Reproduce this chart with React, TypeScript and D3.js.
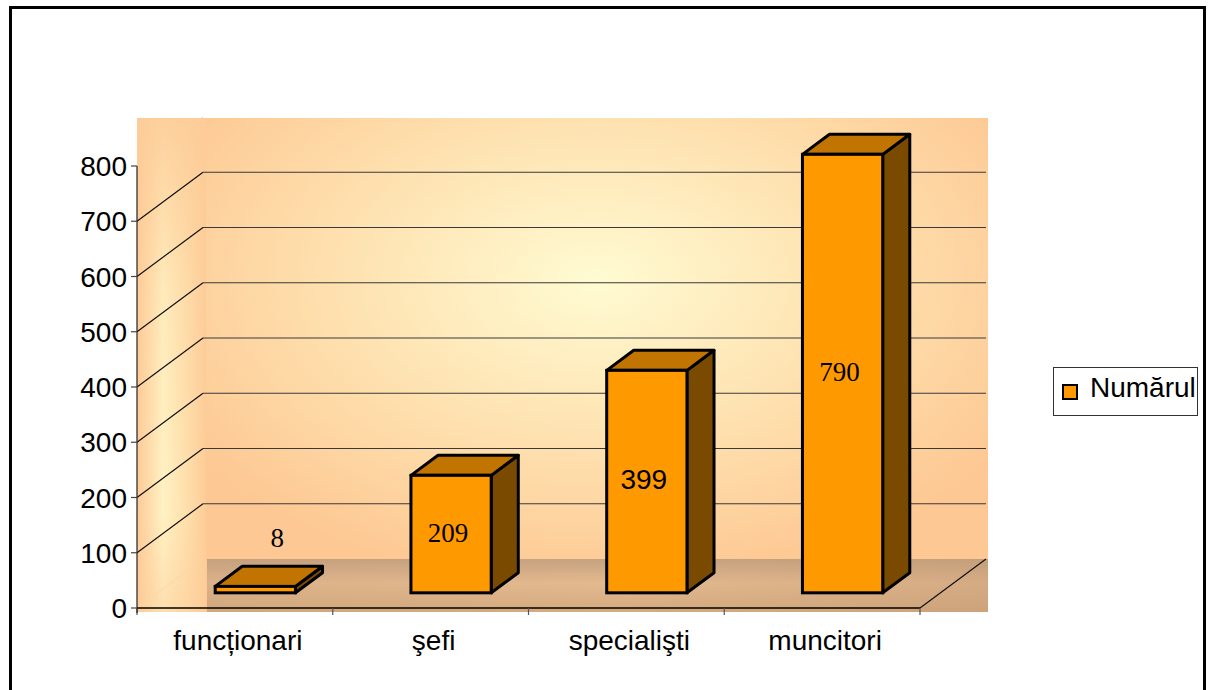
import React from "react"
import * as d3 from "d3"

const categories = ["funcționari", "şefi", "specialişti", "muncitori"]
const values = [8, 209, 399, 790]
const valueLabels = ["8", "209", "399", "790"]
const serifLabel = [true, true, false, true]
const yTicks = [0, 100, 200, 300, 400, 500, 600, 700, 800]
const seriesName = "Numărul"

const W = 1214
const H = 690
const SANS = "'Liberation Sans', Arial, sans-serif"
const SERIF = "'Liberation Serif', 'Times New Roman', serif"

// 3D depth of the plot box (front -> back wall)
const DX = 66
const DY = -49
// bar sits between these depth fractions
const DF = 0.31
const DB = 0.72

const App = () => {
  const x = d3.scaleBand().domain(categories).range([137, 920]).padding(0)
  const y = d3.scaleLinear().domain([0, 800]).range([608, 166])

  const bw = x.bandwidth()
  const barW = bw * 0.41
  const backX = 137 + DX
  const wallTop = y(800) + DY + 1
  const floorBack = y(0) + DY
  const plotRight = 920 + DX

  const bx = (DB - DF) * DX
  const by = (DB - DF) * DY

  return (
    <svg width={W} height={H} style={{ position: "absolute", left: 0, top: 0 }}>
      <defs>
        <radialGradient id="backWall" cx="0.5" cy="0.33" r="0.62">
          <stop offset="0" stopColor="#fffbd2" />
          <stop offset="0.55" stopColor="#fee0ae" />
          <stop offset="1" stopColor="#fdc893" />
        </radialGradient>
        <linearGradient id="sideWall" x1="0" x2="1" y1="0" y2="0">
          <stop offset="0" stopColor="#fdca96" />
          <stop offset="0.38" stopColor="#fff2c4" />
          <stop offset="0.7" stopColor="#fee0ad" />
          <stop offset="1" stopColor="#fdcc98" />
        </linearGradient>
        <linearGradient id="sideFade" x1="0" x2="0" y1="0" y2="1">
          <stop offset="0" stopColor="#fdcc98" stopOpacity="0.9" />
          <stop offset="0.35" stopColor="#fdcc98" stopOpacity="0.2" />
          <stop offset="0.8" stopColor="#fdcc98" stopOpacity="0" />
          <stop offset="1" stopColor="#fdcc98" stopOpacity="0.5" />
        </linearGradient>
        <linearGradient id="floor" x1="0" x2="0" y1="0" y2="1">
          <stop offset="0" stopColor="#c6a281" />
          <stop offset="0.45" stopColor="#e3b98f" />
          <stop offset="1" stopColor="#d5aa80" />
        </linearGradient>
        <linearGradient id="floorH" x1="0" x2="1" y1="0" y2="0">
          <stop offset="0" stopColor="#c8a07a" stopOpacity="0.3" />
          <stop offset="0.5" stopColor="#c8a07a" stopOpacity="0" />
          <stop offset="1" stopColor="#c39a74" stopOpacity="0.45" />
        </linearGradient>
      </defs>

      {/* outer frame */}
      <rect x={10.5} y={7.5} width={1194} height={700} fill="#fff" stroke="#000" strokeWidth={3} />

      {/* walls */}
      <rect x={backX} y={wallTop} width={plotRight + 2 - backX} height={612 - wallTop} fill="url(#backWall)" />
      <rect x={137} y={wallTop} width={backX + 3 - 137} height={612 - wallTop} fill="url(#sideWall)" />
      <rect x={137} y={wallTop} width={backX + 3 - 137} height={612 - wallTop} fill="url(#sideFade)" />

      {/* floor */}
      <rect x={backX + 4} y={floorBack} width={plotRight + 2 - backX - 4} height={612 - floorBack} fill="url(#floor)" />
      <rect x={backX + 4} y={floorBack} width={plotRight + 2 - backX - 4} height={612 - floorBack} fill="url(#floorH)" />

      {/* back wall gridlines and side wall diagonals */}
      {yTicks.filter((t) => t > 0 && t < 800).map((t) => (
        <g key={"g" + t}>
          <line x1={backX} x2={plotRight} y1={y(t) + DY} y2={y(t) + DY} stroke="#3a3a3a" strokeWidth={1.2} />
          <line x1={137} x2={backX} y1={y(t)} y2={y(t) + DY} stroke="#111" strokeWidth={1.2} />
        </g>
      ))}
      <line x1={137} x2={backX} y1={y(800)} y2={y(800) + DY} stroke="#fbd2a4" strokeWidth={1} />
      <line x1={137} x2={backX} y1={y(0)} y2={y(0) + DY} stroke="#fbd6ab" strokeWidth={1} />

      {/* floor front and right edge */}
      <line x1={137} x2={920} y1={y(0)} y2={y(0)} stroke="#000" strokeWidth={1.5} />
      <line x1={920} x2={920 + DX} y1={y(0)} y2={y(0) + DY} stroke="#111" strokeWidth={1.2} />
      {categories.map((c) => (
        <line key={"ct" + c} x1={x(c)} x2={x(c)} y1={y(0)} y2={y(0) + 7} stroke="#555" strokeWidth={1.2} />
      ))}
      <line x1={920} x2={920} y1={y(0)} y2={y(0) + 7} stroke="#555" strokeWidth={1.2} />

      {/* y axis */}
      <line x1={137} x2={137} y1={y(800)} y2={y(0) + 5} stroke="#222" strokeWidth={1.2} />
      {yTicks.map((t) => (
        <g key={"t" + t}>
          <line x1={131} x2={137} y1={y(t)} y2={y(t)} stroke="#444" strokeWidth={1.2} />
          <text x={127} y={y(t)} dy="0.36em" textAnchor="end" fontFamily={SANS} fontSize={28} fill="#000">
            {t}
          </text>
        </g>
      ))}

      {/* bars */}
      {categories.map((c, i) => {
        const L = (x(c) as number) + (bw - barW) / 2 + DF * DX
        const R = L + barW
        const B = y(0) + DF * DY
        const T = y(values[i]) + DF * DY - 2
        const small = B - T < 20
        const lx = small ? (L + R) / 2 + 22 : (L + R) / 2 - 3
        const ly = small ? T - 49 : (T + B) / 2 - 2
        return (
          <g key={"b" + c}>
            <polygon
              points={`${R},${T} ${R + bx},${T + by} ${R + bx},${B + by} ${R},${B}`}
              fill="#7a4a00"
              stroke="#000"
              strokeWidth={3}
              strokeLinejoin="round"
            />
            <polygon
              points={`${L},${T} ${L + bx},${T + by} ${R + bx},${T + by} ${R},${T}`}
              fill="#c27400"
              stroke="#000"
              strokeWidth={3}
              strokeLinejoin="round"
            />
            <rect x={L} y={T} width={barW} height={B - T} fill="#ff9900" stroke="#000" strokeWidth={3} />
            <text
              x={lx}
              y={ly}
              dy="0.35em"
              textAnchor="middle"
              fontFamily={serifLabel[i] ? SERIF : SANS}
              fontSize={serifLabel[i] ? 27 : 28}
              fill="#000"
            >
              {valueLabels[i]}
            </text>
          </g>
        )
      })}

      {/* category labels */}
      {categories.map((c) => (
        <text key={"cl" + c} x={(x(c) as number) + bw / 2 + 3} y={650} textAnchor="middle" fontFamily={SANS} fontSize={28} fill="#000">
          {c}
        </text>
      ))}

      {/* legend */}
      <rect x={1053.5} y={367.5} width={144} height={48} fill="#fff" stroke="#333" strokeWidth={1} />
      <rect x={1063} y={385} width={14} height={14} fill="#ff9900" stroke="#000" strokeWidth={2} />
      <text x={1090} y={397} fontFamily={SANS} fontSize={28} fill="#000">
        {seriesName}
      </text>
    </svg>
  )
}

export default App
